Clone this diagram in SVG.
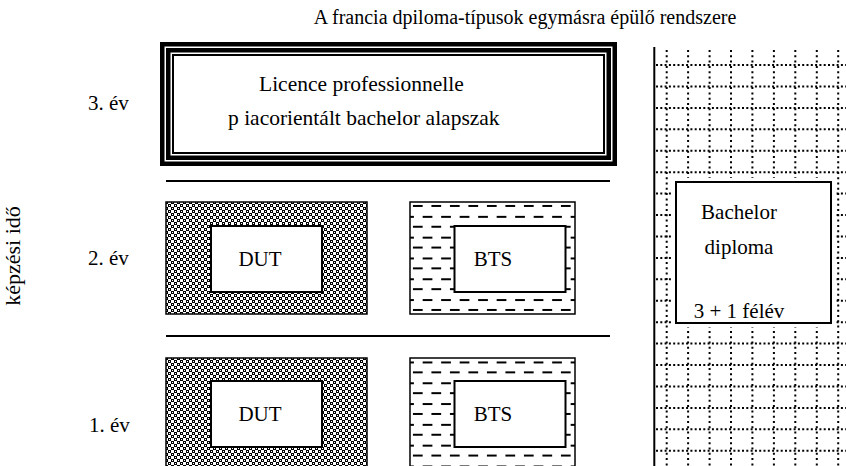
<svg xmlns="http://www.w3.org/2000/svg" width="846" height="466" viewBox="0 0 846 466">
<style>
text{font-family:"Liberation Serif","Times New Roman",serif;fill:#000;font-size:21px}
.title{font-size:20px}
.lic{font-size:21.5px}
.box{fill:#fff;stroke:#000;stroke-width:2}
.dut{fill:url(#checker);stroke:#000;stroke-width:1.5}
.bts{fill:url(#dashes);stroke:#000;stroke-width:1.5}
.frame{fill:none;stroke:#000}
.hdot{stroke:#000;stroke-width:2;stroke-dasharray:2 2.3;fill:none}
.vdot{stroke:#000;stroke-width:2;stroke-dasharray:2 3.3;fill:none}
</style>
<defs>
<pattern id="checker" patternUnits="userSpaceOnUse" x="0" y="0" width="6" height="6">
<rect width="6" height="6" fill="#fff"/>
<rect x="0" y="0" width="3" height="3" fill="#000" shape-rendering="crispEdges"/>
<rect x="3" y="3" width="3" height="3" fill="#000" shape-rendering="crispEdges"/>
<rect x="1" y="1" width="1" height="1" fill="#fff" shape-rendering="crispEdges"/>
<rect x="4" y="4" width="1" height="1" fill="#fff" shape-rendering="crispEdges"/>
</pattern>
<pattern id="dashes" patternUnits="userSpaceOnUse" x="410" y="202" width="18.5" height="20.8">
<rect width="18.5" height="20.8" fill="#fff"/>
<rect x="3" y="3" width="10" height="2" fill="#000" shape-rendering="crispEdges"/>
<rect x="12.25" y="13.4" width="10" height="2" fill="#000" shape-rendering="crispEdges"/>
<rect x="-6.25" y="13.4" width="10" height="2" fill="#000" shape-rendering="crispEdges"/>
</pattern>
</defs>
<rect width="846" height="466" fill="#fff"/>

<text class="title" x="525" y="24" text-anchor="middle">A francia dpiloma-típusok egymásra épülő rendszere</text>

<g id="axis">
<text transform="translate(20,256) rotate(-90)" text-anchor="middle" style="font-size:22px">képzési idő</text>
<text x="88" y="110">3. év</text>
<text x="88" y="265">2. év</text>
<text x="89" y="432">1. év</text>
</g>

<g id="licence">
<rect x="160" y="42" width="457" height="124" fill="#fff"/>
<rect class="frame" x="162.25" y="44.25" width="452.5" height="119.5" stroke-width="4.5"/>
<rect class="frame" x="168.25" y="50.25" width="440.5" height="107.5" stroke-width="4.5"/>
<rect class="frame" x="173" y="55" width="431" height="98" stroke-width="2"/>
<text class="lic" x="259" y="91">Licence professionnelle</text>
<text class="lic" x="228" y="125">p iacorientált bachelor alapszak</text>
</g>

<g id="dividers">
<line x1="166" y1="181" x2="610" y2="181" stroke="#000" stroke-width="2"/>
<line x1="166" y1="336" x2="610" y2="336" stroke="#000" stroke-width="2"/>
</g>

<g id="dut2">
<rect class="dut" x="166" y="202" width="201" height="112"/>
<rect class="box" x="211" y="226" width="111" height="66"/>
<text x="260" y="266" text-anchor="middle">DUT</text>
</g>
<g id="bts2">
<rect class="bts" x="410" y="202" width="165" height="112"/>
<rect class="box" x="454.5" y="226" width="111" height="66"/>
<text x="493" y="266" text-anchor="middle">BTS</text>
</g>
<g id="dut1">
<rect class="dut" x="166" y="358" width="201" height="120"/>
<rect class="box" x="211" y="381" width="111" height="66"/>
<text x="260" y="421" text-anchor="middle">DUT</text>
</g>
<g id="bts1">
<rect class="bts" x="410" y="358" width="165" height="120"/>
<rect class="box" x="454.5" y="381" width="111" height="66"/>
<text x="493" y="421" text-anchor="middle">BTS</text>
</g>

<g id="bachelor">
<rect x="654" y="47" width="200" height="430" fill="#fff"/>
<g class="vdot">
<path d="M666.7 50V466M688.1 50V466M709.6 50V466M731 50V466M752.4 50V466M773.9 50V466M795.3 50V466M816.8 50V466M838.2 50V466"/>
</g>
<g class="hdot">
<path d="M656 65H846M656 86.4H846M656 107.9H846M656 129.3H846M656 150.7H846M656 172.2H846M656 193.6H846M656 215H846M656 236.4H846M656 257.9H846M656 279.3H846M656 300.7H846M656 322.2H846M656 343.6H846M656 365H846M656 386.4H846M656 407.9H846M656 429.3H846M656 450.7H846"/>
</g>
<line x1="654.3" y1="47" x2="654.3" y2="466" stroke="#000" stroke-width="2"/>
<rect x="672" y="178" width="163" height="149" fill="#fff"/>
<rect class="box" x="676" y="182" width="155" height="141"/>
<text x="739" y="219" text-anchor="middle">Bachelor</text>
<text x="739" y="254" text-anchor="middle">diploma</text>
<text x="739" y="318" text-anchor="middle">3 + 1 félév</text>
</g>
</svg>
